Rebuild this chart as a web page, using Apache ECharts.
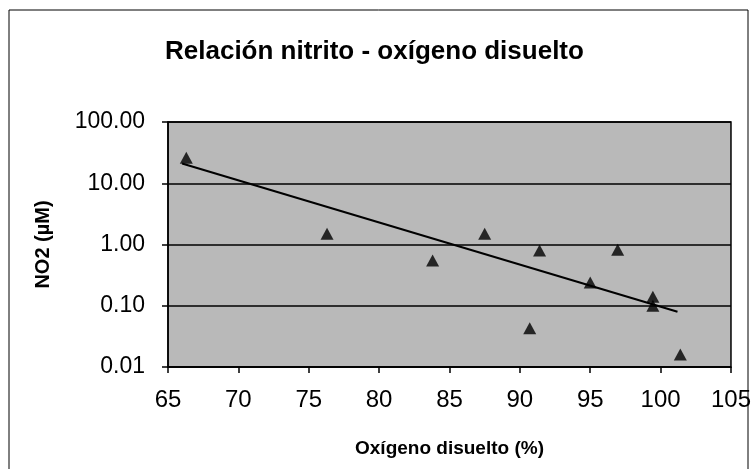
<!DOCTYPE html>
<html>
<head>
<meta charset="utf-8">
<script src="https://cdn.jsdelivr.net/npm/echarts@6/dist/echarts.min.js"></script>
<style>
  html, body { margin: 0; padding: 0; background: #fff; }
  #chart { width: 754px; height: 469px; }
</style>
</head>
<body>
<div id="chart"></div>
<script>
// oxígeno disuelto (%) vs NO2 (µM)
let oxigeno = [66.3, 76.3, 83.8, 87.5, 90.7, 91.4, 95.0, 96.95, 99.45, 99.45, 101.4];
let no2 = [26, 1.5, 0.55, 1.5, 0.043, 0.8, 0.24, 0.82, 0.14, 0.1, 0.016];
// línea de tendencia (exponencial), extremos
let trendX = [66.0, 101.2];
let trendY = [21, 0.08];
let xTicks = [65, 70, 75, 80, 85, 90, 95, 100, 105];
let yTicks = [0.01, 0.1, 1, 10, 100];

let puntos = oxigeno.map((x, i) => [x, no2[i]]);
let tendencia = trendX.map((x, i) => [x, trendY[i]]);

let chart = echarts.init(document.getElementById('chart'));
let font = 'Liberation Sans, Arial, sans-serif';
let option = {
  backgroundColor: '#fff',
  textStyle: { fontFamily: font, color: '#000' },
  title: {
    text: 'Relación nitrito - oxígeno disuelto',
    left: 160,
    top: 34,
    textStyle: { fontFamily: font, fontSize: 26, fontWeight: 'bold', color: '#000' }
  },
  graphic: [
    {
      type: 'rect',
      shape: { x: 9, y: 10, width: 739, height: 470 },
      style: { fill: 'none', stroke: '#000', lineWidth: 1 },
      z: 10
    }
  ],
  grid: {
    left: 168,
    right: 23,
    top: 122,
    bottom: 102,
    show: true,
    backgroundColor: '#b9b9b9',
    borderColor: '#000',
    borderWidth: 1.5
  },
  xAxis: {
    type: 'value',
    min: xTicks[0],
    max: xTicks[xTicks.length - 1],
    interval: 5,
    name: 'Oxígeno disuelto (%)',
    nameLocation: 'middle',
    nameGap: 72,
    nameTextStyle: { fontFamily: font, fontSize: 19, fontWeight: 'bold', color: '#000' },
    axisLine: { lineStyle: { color: '#000', width: 1.5 } },
    axisTick: { show: true, inside: false, length: 6, lineStyle: { color: '#000', width: 1.5 } },
    axisLabel: { fontSize: 24, color: '#000', margin: 21 },
    splitLine: { show: false }
  },
  yAxis: {
    type: 'log',
    logBase: 10,
    min: yTicks[0],
    max: yTicks[yTicks.length - 1],
    name: 'NO2 (µM)',
    nameLocation: 'middle',
    nameGap: 115,
    nameTextStyle: { fontFamily: font, fontSize: 20, fontWeight: 'bold', color: '#000' },
    axisLine: { show: true, lineStyle: { color: '#000', width: 1.5 } },
    axisTick: { show: true, inside: false, length: 6, lineStyle: { color: '#000', width: 1.5 } },
    axisLabel: {
      fontSize: 23,
      color: '#000',
      margin: 23,
      formatter: v => v.toFixed(2)
    },
    splitLine: { show: true, lineStyle: { color: '#000', width: 1.5 } }
  },
  series: [
    {
      name: 'tendencia',
      type: 'line',
      data: tendencia,
      symbol: 'none',
      lineStyle: { color: '#000', width: 2 },
      silent: true,
      z: 2
    },
    {
      name: 'NO2',
      type: 'scatter',
      data: puntos,
      symbol: 'triangle',
      symbolSize: [13, 12],
      itemStyle: { color: '#000' },
      z: 3
    }
  ]
};
chart.setOption(option);
</script>
</body>
</html>
